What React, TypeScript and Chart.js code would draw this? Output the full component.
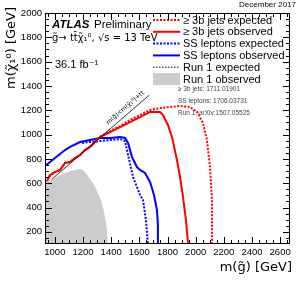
import { useEffect, useRef, useState } from 'react';
import { Chart, registerables } from 'chart.js';
Chart.register(...registerables);

const FONT = '"Liberation Sans", Arial, "DejaVu Sans", sans-serif';
const DJ = '"DejaVu Sans", sans-serif';

// axis ticks
const xTickValues = [1000, 1200, 1400, 1600, 1800, 2000, 2200, 2400, 2600];
const yTickValues = [200, 400, 600, 800, 1000, 1200, 1400, 1600, 1800, 2000];
const xMinorStep = 50;
const yMinorStep = 50;

// >= 3b jets observed
const redObsX = [937, 966, 1001, 1037, 1072, 1108, 1143, 1179, 1214, 1250, 1299, 1321, 1392, 1463, 1534, 1605, 1676, 1747, 1768, 1803, 1832, 1867, 1889, 1910, 1931, 1946];
const redObsY = [602, 667, 692, 709, 766, 774, 807, 832, 873, 898, 955, 980, 1021, 1062, 1103, 1144, 1186, 1186, 1161, 1079, 980, 791, 651, 487, 297, 100];
// >= 3b jets expected
const redExpX = [937, 966, 1001, 1037, 1072, 1108, 1143, 1179, 1214, 1250, 1299, 1321, 1392, 1463, 1534, 1605, 1676, 1747, 1818, 1889, 1960, 2010, 2052, 2080, 2102, 2116, 2116];
const redExpY = [602, 667, 692, 709, 766, 774, 807, 832, 873, 898, 955, 984, 1029, 1070, 1120, 1161, 1202, 1218, 1227, 1235, 1227, 1186, 1095, 955, 733, 462, 100];
// SS leptons observed
const blueObsX = [930, 1001, 1072, 1108, 1179, 1250, 1321, 1392, 1463, 1498, 1520, 1548, 1583, 1605, 1640, 1676, 1704, 1725, 1732, 1732];
const blueObsY = [741, 807, 873, 898, 939, 955, 972, 972, 980, 972, 931, 815, 733, 709, 684, 610, 503, 380, 256, 100];
// SS leptons expected
const blueExpX = [1193, 1250, 1321, 1392, 1463, 1498, 1520, 1555, 1605, 1626, 1647, 1661];
const blueExpY = [931, 939, 947, 955, 963, 947, 832, 651, 503, 462, 297, 100];
// Run 1 observed
const run1ObsX = [930, 966, 1037, 1108, 1179, 1200, 1235, 1271, 1306, 1335, 1356, 1370, 1377];
const run1ObsY = [610, 626, 667, 700, 717, 709, 659, 602, 519, 437, 322, 215, 100];
// Run 1 expected
const run1ExpX = [930, 951, 1037, 1108, 1179, 1235, 1285, 1306, 1328, 1335, 1335];
const run1ExpY = [585, 593, 618, 634, 610, 569, 503, 421, 322, 215, 100];
// kinematic limit
const diagX = [930, 1670];
const diagY = [584, 1324];

const legendLabels = ['≥ 3b jets expected', '≥ 3b jets observed', 'SS leptons expected', 'SS leptons observed', 'Run 1 expected', 'Run 1 observed'];
const refLabels = ['≥ 3b jets: 1711.01901', 'SS leptons: 1706.03731', 'Run 1: arXiv:1507.05525'];

const pts = (xs: number[], ys: number[]) => xs.map((x, i) => ({ x, y: ys[i] }));

const RED = '#ff0000';
const BLUE = '#0000ff';
const GRAY = '#cccccc';
const DGRAY = '#555555';

const texts = {
  id: 'texts',
  afterDraw(chart: any) {
    const { ctx, scales } = chart;
    const xs = scales.x, ys = scales.y;
    ctx.save();
    const x1 = xs.getPixelForValue(diagX[0]), y1 = ys.getPixelForValue(diagY[0]);
    const x2 = xs.getPixelForValue(diagX[1]), y2 = ys.getPixelForValue(diagY[1]);
    const ang = Math.atan2(y2 - y1, x2 - x1);
    ctx.save();
    ctx.translate(xs.getPixelForValue(1500), ys.getPixelForValue(1154) - 8);
    ctx.rotate(ang);
    ctx.fillStyle = '#000';
    ctx.font = `6px ${DJ}`;
    ctx.textAlign = 'center';
    ctx.textBaseline = 'middle';
    ctx.fillText('m(g̃)<m(χ̃₁⁰)+tt', 0, 0);
    ctx.restore();

    const styles = [
      { c: RED, d: [2, 1.5], w: 2 },
      { c: RED, d: [], w: 2 },
      { c: BLUE, d: [2, 1.5], w: 2 },
      { c: BLUE, d: [], w: 2 },
      { c: DGRAY, d: [1.5, 1.5], w: 1.5 },
      { c: GRAY, d: [], w: 0, box: true },
    ];
    ctx.font = `11px ${FONT}`;
    ctx.textBaseline = 'middle';
    ctx.textAlign = 'left';
    legendLabels.forEach((t, i) => {
      const y = 20 + i * 11.8;
      const s: any = styles[i];
      if (s.box) {
        ctx.fillStyle = s.c;
        ctx.fillRect(153, y - 6, 27, 12);
      } else {
        ctx.strokeStyle = s.c;
        ctx.lineWidth = s.w;
        ctx.setLineDash(s.d);
        ctx.beginPath();
        ctx.moveTo(153, y); ctx.lineTo(180, y);
        ctx.stroke();
        ctx.setLineDash([]);
      }
      ctx.fillStyle = '#000';
      ctx.fillText(t, 183, y + 0.5);
    });
    ctx.font = `6.5px ${FONT}`;
    ctx.fillStyle = '#444';
    refLabels.forEach((t, i) => ctx.fillText(t, 178, 89 + i * 12));

    ctx.fillStyle = '#000';
    ctx.font = `bold italic 11.5px ${FONT}`;
    ctx.fillText('ATLAS', 52, 25);
    ctx.font = `11.5px ${FONT}`;
    ctx.fillText('Preliminary', 94, 25);
    ctx.font = `10px ${DJ}`;
    ctx.fillText('g̃→ tt̄χ̃₁⁰, √s = 13 TeV', 52, 38);
    ctx.font = `11px ${FONT}`;
    ctx.fillText('36.1 fb⁻¹', 55, 65);

    ctx.font = `8px ${FONT}`;
    ctx.textAlign = 'right';
    ctx.fillText('December 2017', 296, 5);

    ctx.font = `13px ${DJ}`;
    ctx.textAlign = 'right';
    ctx.fillText('m(g̃) [GeV]', 292, 268);
    ctx.save();
    ctx.translate(12, 7);
    ctx.rotate(-Math.PI / 2);
    ctx.textAlign = 'right';
    ctx.fillText('m(χ̃₁⁰) [GeV]', 0, 0);
    ctx.restore();
    ctx.restore();
  },
};

type Geo = { L: number; R: number; T: number; B: number; xt: { p: number; major: boolean }[]; yt: { p: number; major: boolean }[] };

export default function App() {
  const ref = useRef<HTMLCanvasElement>(null);
  const [geo, setGeo] = useState<Geo | null>(null);
  useEffect(() => {
    const line = (data: any, color: string, dash: number[], width: number, extra: any = {}) => ({
      data, borderColor: color, borderDash: dash, borderWidth: width, pointRadius: 0,
      showLine: true, fill: false, tension: 0, ...extra,
    });
    const chart = new Chart(ref.current!, {
      type: 'scatter',
      data: {
        datasets: [
          line(pts(run1ObsX, run1ObsY), GRAY, [], 0, { fill: 'start', backgroundColor: GRAY }),
          line(pts(run1ExpX, run1ExpY), DGRAY, [1.5, 1.5], 1.5),
          line(pts(diagX, diagY), '#000', [], 0.8),
          line(pts(redExpX, redExpY), RED, [2, 1.5], 2),
          line(pts(redObsX, redObsY), RED, [], 2),
          line(pts(blueExpX, blueExpY), BLUE, [2, 1.5], 2),
          line(pts(blueObsX, blueObsY), BLUE, [], 2),
        ],
      },
      options: {
        animation: false,
        responsive: false,
        maintainAspectRatio: false,
        devicePixelRatio: 1,
        layout: { padding: { left: 0, right: 10, top: 13, bottom: 0 } },
        plugins: { legend: { display: false }, tooltip: { enabled: false } },
        scales: {
          x: {
            type: 'linear', min: 930, max: 2670,
            grid: { display: false, drawTicks: false },
            border: { display: false },
            afterBuildTicks: (s: any) => { s.ticks = xTickValues.map((v) => ({ value: v })); },
            afterFit: (s: any) => { s.height = 44; },
            ticks: { autoSkip: false, maxRotation: 0, padding: 3, color: '#000', font: { family: FONT, size: 9.5 }, callback: (v: any) => String(v) },
          },
          y: {
            type: 'linear', min: 100, max: 2000,
            grid: { display: false, drawTicks: false },
            border: { display: false },
            afterBuildTicks: (s: any) => { s.ticks = yTickValues.map((v) => ({ value: v })); },
            afterFit: (s: any) => { s.width = 45; },
            ticks: { autoSkip: false, padding: 3, color: '#000', font: { family: FONT, size: 9.5 }, callback: (v: any) => String(v) },
          },
        },
      },
      plugins: [texts],
    } as any);
    const a = chart.chartArea;
    const xs: any = chart.scales.x, ys: any = chart.scales.y;
    const xt: { p: number; major: boolean }[] = [];
    for (let v = Math.ceil(xs.min / xMinorStep) * xMinorStep; v < xs.max; v += xMinorStep) {
      xt.push({ p: Math.round(xs.getPixelForValue(v)), major: v % 200 === 0 });
    }
    const yt: { p: number; major: boolean }[] = [];
    for (let v = Math.ceil(ys.min / yMinorStep) * yMinorStep + yMinorStep; v < ys.max; v += yMinorStep) {
      yt.push({ p: Math.round(ys.getPixelForValue(v)), major: v % 200 === 0 });
    }
    setGeo({ L: Math.round(a.left), R: Math.round(a.right), T: Math.round(a.top), B: Math.round(a.bottom), xt, yt });
    return () => chart.destroy();
  }, []);

  const bar = (key: string, left: number, top: number, width: number, height: number) => (
    <div key={key} style={{ position: 'absolute', left, top, width, height, background: '#000' }} />
  );

  const marks: any[] = [];
  if (geo) {
    const { L, R, T, B } = geo;
    marks.push(bar('fl', L, T, 1, B - T));
    marks.push(bar('fr', R - 1, T, 1, B - T));
    marks.push(bar('ft', L, T, R - L, 1));
    marks.push(bar('fb', L, B - 1, R - L, 1));
    geo.xt.forEach((t, i) => {
      const len = t.major ? 7 : 4;
      marks.push(bar('xb' + i, t.p, B - len, 1, len));
      marks.push(bar('xt' + i, t.p, T, 1, len));
    });
    geo.yt.forEach((t, i) => {
      const len = t.major ? 7 : 4;
      marks.push(bar('yl' + i, L, t.p, len, 1));
      marks.push(bar('yr' + i, R - len, t.p, len, 1));
    });
  }

  return (
    <div style={{ position: 'absolute', left: 0, top: 0, width: 300, height: 288, background: '#fff' }}>
      <canvas ref={ref} width={300} height={288} style={{ position: 'absolute', left: 0, top: 0 }} />
      <div style={{ position: 'absolute', left: 0, top: 0, width: 300, height: 288, pointerEvents: 'none' }}>{marks}</div>
    </div>
  );
}
